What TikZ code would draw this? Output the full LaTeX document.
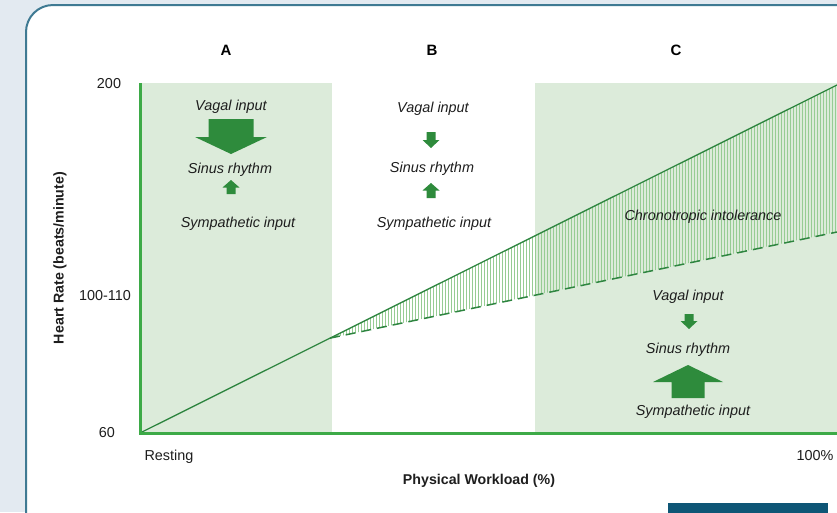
\documentclass[tikz,border=0pt]{standalone}
\usepackage{fontspec}
\setmainfont{Liberation Sans}
\usetikzlibrary{calc}
\definecolor{bgcol}{HTML}{E3EAF1}
\definecolor{framecol}{HTML}{3F7A93}
\definecolor{zonecol}{HTML}{DCEBDA}
\definecolor{axiscol}{HTML}{3DAA47}
\definecolor{curvecol}{HTML}{2E8540}
\definecolor{arrowcol}{HTML}{2E8B3C}
\definecolor{hatchcol}{HTML}{96CC93}
\definecolor{boxcol}{HTML}{0E5676}
\definecolor{inkcol}{HTML}{1E1E1E}
% block arrow: x, tail y, tip y, shaft half-width, head half-width, head length
\newcommand\blockarrow[6]{%
  \pgfmathsetmacro\headbase{#3+((#2>#3)?1:-1)*#6}%
  \fill[arrowcol] (#1-#4,#2) -- (#1-#4,\headbase) -- (#1-#5,\headbase) -- (#1,#3)
    -- (#1+#5,\headbase) -- (#1+#4,\headbase) -- (#1+#4,#2) -- cycle;}
\begin{document}
\begin{tikzpicture}[x=1pt,y=-1pt,
  lbl/.style={text=inkcol,font=\fontsize{14.4}{17}\selectfont\itshape,anchor=base,inner sep=0pt},
  tick/.style={text=inkcol,font=\fontsize{14.4}{17}\selectfont,anchor=base,inner sep=0pt},
  head/.style={text=black,font=\fontsize{15}{18}\selectfont\bfseries,anchor=base,inner sep=0pt},
  axtitle/.style={text=inkcol,font=\fontsize{14.2}{17}\selectfont\bfseries,inner sep=0pt},
  axis/.style={draw=axiscol,line width=3pt},
  curve/.style={draw=curvecol,line width=1.3pt},
  hatch/.style={draw=hatchcol,line width=0.55pt}]
\useasboundingbox (0,0) rectangle (837,512);
\begin{scope}
\clip (0,0) rectangle (837,512);
% page and panel
\fill[bgcol] (0,0) rectangle (837,512);
\draw[framecol,line width=2pt,fill=white,rounded corners=27pt] (26,5) rectangle (900,570);
% zones A and C
\fill[zonecol] (140,83) rectangle (332,433);
\fill[zonecol] (535,83) rectangle (840,433);
% key points of the curves
\coordinate (O) at (140,433);
\coordinate (E) at (837,85);
\coordinate (K) at ($(O)!0.2726!(E)$);
\coordinate (D) at (837,232);
% hatched gap between expected and attained heart rate
\begin{scope}
\clip (K) -- (E) -- (D) -- cycle;
\foreach \x in {331,334,...,838} \draw[hatch] (\x,80) -- (\x,345);
\end{scope}
\draw[curve] (O) -- (E);
\draw[curve,dash pattern=on 10pt off 6pt,line width=1.5pt] (K) -- (D);
% axes
\draw[axis] (140,83) -- (140,433) -- (840,433);
% footer box
\fill[boxcol] (668,503) rectangle (828,520);
\end{scope}
% column headers
\node[head] (hA) at (226,55) {A};
\node[head] (hB) at (432,55) {B};
\node[head] (hC) at (676,55) {C};
% tick labels
\node[tick] (t200) at (109,88) {200};
\node[tick] (t100) at (105,300) {100-110};
\node[tick] (t60) at (107,437) {60};
\node[tick] (rest) at (169,460) {Resting};
\node[tick] (full) at (815,460) {100\%};
\node[axtitle] (xt) at (479,481) {Physical Workload (\%)};
\node[axtitle,rotate=90] (yt) at (60,258) {Heart Rate (beats/minute)};
% zone A
\node[lbl] (va) at (231,110) {Vagal input};
\blockarrow{231}{119}{154}{22.5}{36}{17}
\node[lbl] (sa) at (230,173) {Sinus rhythm};
\blockarrow{231}{194}{180}{4.5}{8.5}{7.5}
\node[lbl] (pa) at (238,227) {Sympathetic input};
% zone B
\node[lbl] (vb) at (433,112) {Vagal input};
\blockarrow{431}{132}{148}{4.5}{8.5}{8}
\node[lbl] (sb) at (432,172) {Sinus rhythm};
\blockarrow{431}{198}{183}{4.5}{8.5}{7.5}
\node[lbl] (pb) at (434,227) {Sympathetic input};
% zone C
\node[lbl] (ci) at (703,220) {Chronotropic intolerance};
\node[lbl] (vc) at (688,300) {Vagal input};
\blockarrow{689}{314}{329}{4.5}{8.5}{8}
\node[lbl] (sc) at (688,353) {Sinus rhythm};
\blockarrow{688}{398}{365}{16.5}{35}{17}
\node[lbl] (pc) at (693,415) {Sympathetic input};
\end{tikzpicture}
\end{document}
